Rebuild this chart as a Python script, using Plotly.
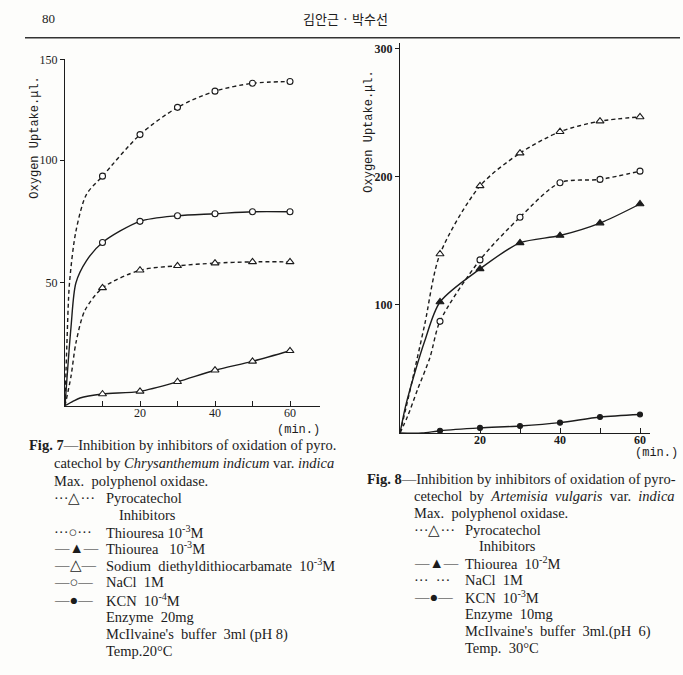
import plotly.graph_objects as go

# ---------------- data ----------------
time = [10, 20, 30, 40, 50, 60]

# Fig. 7 (left)
f7_pyro = [48.0, 55.2, 57.0, 58.1, 58.6, 58.6]            # ...△... dashed
f7_thiouresa = [93.5, 110.4, 121.5, 128.1, 131.3, 132.0]  # ...○... dashed
f7_sdtc = [4.8, 5.9, 9.8, 14.5, 18.1, 22.4]               # —△— solid
f7_nacl = [66.5, 75.1, 77.4, 78.2, 79.0, 79.0]            # —○— solid

# early part of each curve (no markers)
f7_pyro_t0 = [0, 1.6, 2.9, 5.3];        f7_pyro_v0 = [0, 12, 25.5, 38.8]
f7_thio_t0 = [0, 0.5, 1.2, 2.9, 5.7];   f7_thio_v0 = [0, 25, 50, 71, 86]
f7_sdtc_t0 = [0, 2.2, 4.0];             f7_sdtc_v0 = [0, 1.9, 3.2]
f7_nacl_t0 = [0, 1.6, 2.9, 5.7];        f7_nacl_v0 = [0, 32, 50, 59]

# Fig. 8 (right)
f8_pyro = [139.6, 192.7, 218.3, 235.0, 243.2, 246.5]      # ...△... dashed
f8_nacl = [87.1, 135.0, 168.3, 195.2, 197.8, 204.2]       # ...○... dashed
f8_thiourea = [102.2, 128.0, 148.3, 154.0, 163.7, 178.6]  # —▲— solid
f8_kcn = [1.8, 4.0, 5.5, 8.1, 12.5, 14.5]                 # —●— solid

f8_pyro_t0 = [0, 1.6, 3.5, 6.2];   f8_pyro_v0 = [0, 21, 47, 85]
f8_nacl_t0 = [0, 1.9, 4.4, 7.5];   f8_nacl_v0 = [0, 13, 34, 59]
f8_thio_t0 = [0, 1.4, 3.7, 6.2];   f8_thio_v0 = [0, 21, 47, 72]
f8_kcn_t0 = [0, 5.5];              f8_kcn_v0 = [0, 0]

x_ticks = [10, 20, 30, 40, 50, 60]
x_ticktext = ["", "20", "", "40", "", "60"]

# ---------------- figure ----------------
W, H = 683, 675
INK = "#1c1c1c"
SERIF = "Liberation Serif"
MONO = "Liberation Mono"


def px(x):
    return x / W


def py(y):
    return 1 - y / H


fig = go.Figure()


def add_series(xa, ya, t0, v0, vals, dash, symbol, fill):
    fig.add_trace(go.Scatter(
        x=t0 + time, y=v0 + vals, mode="lines", xaxis=xa, yaxis=ya,
        line=dict(color=INK, width=1.4, dash=dash, shape="spline", smoothing=0.8),
        hoverinfo="skip", showlegend=False))
    size = 7 if "triangle" in symbol else 6
    if symbol == "circle" and fill:
        size = 5
    fig.add_trace(go.Scatter(
        x=time, y=vals, mode="markers", xaxis=xa, yaxis=ya,
        marker=dict(symbol=symbol, size=size,
                    color=INK if fill else "white",
                    line=dict(color=INK, width=1.1)),
        showlegend=False))


DASH = "4px,3px"
add_series("x", "y", f7_thio_t0, f7_thio_v0, f7_thiouresa, DASH, "circle", False)
add_series("x", "y", f7_nacl_t0, f7_nacl_v0, f7_nacl, "solid", "circle", False)
add_series("x", "y", f7_pyro_t0, f7_pyro_v0, f7_pyro, DASH, "triangle-up", False)
add_series("x", "y", f7_sdtc_t0, f7_sdtc_v0, f7_sdtc, "solid", "triangle-up", False)

add_series("x2", "y2", f8_pyro_t0, f8_pyro_v0, f8_pyro, DASH, "triangle-up", False)
add_series("x2", "y2", f8_nacl_t0, f8_nacl_v0, f8_nacl, DASH, "circle", False)
add_series("x2", "y2", f8_thio_t0, f8_thio_v0, f8_thiourea, "solid", "triangle-up", True)
add_series("x2", "y2", f8_kcn_t0, f8_kcn_v0, f8_kcn, "solid", "circle", True)

axis_common = dict(showgrid=False, zeroline=False, showline=True,
                   linecolor=INK, linewidth=1.4, tickcolor=INK)
tf = dict(family=SERIF, size=12, color=INK)
tfb = dict(family=SERIF, size=12, color=INK, weight="bold")

fig.update_layout(
    width=W, height=H,
    margin=dict(l=0, r=0, t=0, b=0),
    paper_bgcolor="#fdfdfb", plot_bgcolor="rgba(0,0,0,0)",
    xaxis=dict(domain=[px(65), px(320)], range=[0, 68], anchor="y",
               tickvals=x_ticks, ticktext=x_ticktext, ticks="inside", ticklen=5,
               ticklabelstandoff=-4, tickfont=tf, **axis_common),
    yaxis=dict(domain=[py(403), py(53)], range=[0, 141], anchor="x",
               tickvals=[50, 100, 141], ticktext=["50", "100", "150"],
               ticks="outside", ticklen=4, tickfont=tf, **axis_common),
    xaxis2=dict(domain=[px(400), px(650)], range=[0, 62.5], anchor="y2",
                tickvals=x_ticks, ticktext=x_ticktext, ticks="inside", ticklen=5,
                ticklabelstandoff=-5, tickfont=tfb, **axis_common),
    yaxis2=dict(domain=[py(430.5), py(36.7)], range=[0, 303.9], anchor="x2",
                tickvals=[100, 200, 300], ticks="outside", ticklen=4,
                tickfont=tfb, **axis_common),
)

ann = []


def text(x, y, s, size=14.5, family=SERIF, anchor="left", angle=0, color=INK):
    ann.append(dict(x=px(x), y=py(y), xref="paper", yref="paper", text=s,
                    showarrow=False, xanchor=anchor, yanchor="middle",
                    textangle=angle,
                    font=dict(family=family, size=size, color=color)))


# header
text(40, 12, "80", size=13)
text(345, 12, "김안근 · 박수선", size=13, family="Noto Sans CJK KR", anchor="center")

# axis titles / units
text(35, 132, "Oxygen Uptake.μl.", size=12, family=MONO, anchor="center", angle=-90)
text(369, 126, "Oxygen Uptake.μl.", size=12, family=MONO, anchor="center", angle=-90)
text(298, 427, "(min.)", size=12, family=MONO, anchor="center")
text(656, 451, "(min.)", size=12, family=MONO, anchor="center")

# Fig. 7 caption
text(27, 443, "<b>Fig. 7</b>—Inhibition by inhibitors of oxidation of pyro.")
text(52, 461, "catechol by <i>Chrysanthemum indicum</i> var. <i>indica</i>")
text(52, 479, "Max.  polyphenol oxidase.")
rows7 = [
    (496, "···△···", "Pyrocatechol"),
    (530, "···○···", "Thiouresa 10<sup>-3</sup>M"),
    (547, "—▲—", "Thiourea   10<sup>-3</sup>M"),
    (564, "—△—", "Sodium  diethyldithiocarbamate  10<sup>-3</sup>M"),
    (581, "—○—", "NaCl  1M"),
    (599, "—●—", "KCN  10<sup>-4</sup>M"),
    (616, "", "Enzyme  20mg"),
    (634, "", "McIlvaine's  buffer  3ml (pH 8)"),
    (651, "", "Temp.20°C"),
]
text(117, 513, "Inhibitors")
for y, sym, lab in rows7:
    if sym:
        text(52, y, sym)
    text(104, y, lab)

# Fig. 8 caption
text(365, 477, "<b>Fig. 8</b>—Inhibition by inhibitors of oxidation of pyro-")
text(412, 494, "cetechol  by  <i>Artemisia  vulgaris</i>  var.  <i>indica</i>")
text(412, 511, "Max.  polyphenol oxidase.")
rows8 = [
    (528, "···△···", "Pyrocatechol"),
    (562, "—▲—", "Thiourea  10<sup>-2</sup>M"),
    (579, "···  ···", "NaCl  1M"),
    (596, "—●—", "KCN  10<sup>-3</sup>M"),
    (613, "", "Enzyme  10mg"),
    (631, "", "McIlvaine's  buffer  3ml.(pH  6)"),
    (648, "", "Temp.  30°C"),
]
text(477, 545, "Inhibitors")
for y, sym, lab in rows8:
    if sym:
        text(412, y, sym)
    text(463, y, lab)

fig.update_layout(annotations=ann)

# header rule
fig.add_shape(type="line", xref="paper", yref="paper",
              x0=px(25), x1=px(680), y0=py(31), y1=py(31),
              line=dict(color="#333333", width=1.5))

fig.write_html("out.html")
